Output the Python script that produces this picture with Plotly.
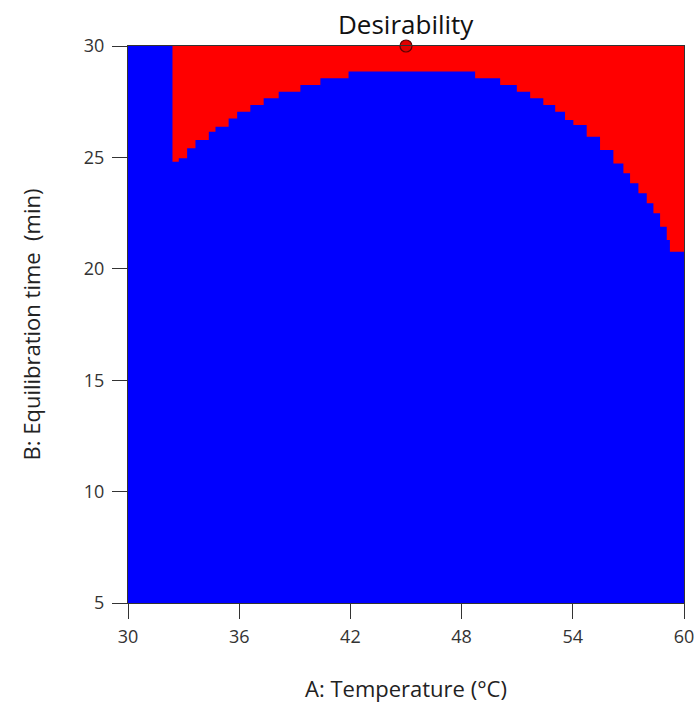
import plotly.graph_objects as go

# Boundary of the red (high desirability) region
boundary_temp = [32.4, 32.4, 32.74, 33.19, 33.64, 34.36, 34.72, 35.43, 35.89, 36.6, 37.32,
                 38.13, 39.3, 40.38, 41.9, 48.46, 48.73, 50.08, 50.98, 51.7, 52.41, 53.05,
                 53.58, 54.03, 54.75, 55.47, 56.19, 56.73, 57.09, 57.54, 57.99, 58.35,
                 58.71, 59.07, 59.24, 59.78, 60.0, 60.0]
boundary_time = [30.0, 24.8, 24.96, 25.41, 25.78, 26.15, 26.38, 26.75, 27.05, 27.35, 27.65,
                 27.95, 28.25, 28.55, 28.85, 28.85, 28.55, 28.25, 27.95, 27.65, 27.35, 27.05,
                 26.68, 26.45, 25.93, 25.33, 24.73, 24.29, 23.84, 23.39, 22.94, 22.49,
                 21.89, 21.29, 20.77, 20.77, 20.47, 30.0]

x_range = [30, 60]
y_range = [5, 30]
x_ticks = [30, 36, 42, 48, 54, 60]
y_ticks = [5, 10, 15, 20, 25, 30]

opt_temp = [45]
opt_time = [30]

font_family = "Open Sans, Noto Sans, sans-serif"
W, H = 696, 726
ML, MR, MT, MB = 128, 12, 46, 123

fig = go.Figure()

# blue region (whole design space)
fig.add_trace(go.Scatter(
    x=[x_range[0], x_range[1], x_range[1], x_range[0], x_range[0]],
    y=[y_range[0], y_range[0], y_range[1], y_range[1], y_range[0]],
    fill="toself", fillcolor="#0000FF", mode="lines", line=dict(width=0),
    hoverinfo="skip", showlegend=False))

# red region (stepped boundary like the gridded response surface)
fig.add_trace(go.Scatter(
    x=boundary_temp, y=boundary_time, fill="toself", fillcolor="#FF0000",
    mode="lines", line=dict(width=0, color="#FF0000", shape="hv"), hoverinfo="skip",
    showlegend=False))

# optimum point
fig.add_trace(go.Scatter(
    x=opt_temp, y=opt_time, mode="markers",
    marker=dict(size=12, color="#E00000", line=dict(color="#600000", width=1.2)),
    cliponaxis=False, showlegend=False, hoverinfo="skip"))

plot_h = H - MT - MB
plot_w = W - ML - MR

fig.update_layout(
    width=W, height=H,
    margin=dict(l=ML, r=MR, t=MT, b=MB),
    paper_bgcolor="white", plot_bgcolor="white",
    font=dict(family=font_family, color="#222222"),
    annotations=[
        dict(text="Desirability", xref="paper", yref="paper", x=0.5, y=1 + 22 / plot_h,
             xanchor="center", yanchor="middle", showarrow=False,
             font=dict(size=26, color="#111111")),
        dict(text="A: Temperature (°C)", xref="paper", yref="paper", x=0.5,
             y=-(688 - (H - MB)) / plot_h, xanchor="center", yanchor="middle",
             showarrow=False, font=dict(size=22, color="#222222")),
        dict(text="B: Equilibration time  (min)", xref="paper", yref="paper",
             x=-(ML - 30) / plot_w, y=0.5, xanchor="center", yanchor="middle",
             textangle=-90, showarrow=False, font=dict(size=22, color="#222222")),
    ],
    xaxis=dict(
        range=x_range, tickvals=x_ticks, ticks="outside", ticklen=15, tickwidth=1,
        tickcolor="#333333", showgrid=False, zeroline=False, automargin=False,
        showline=True, linecolor="#333333", linewidth=1, mirror=True,
        tickfont=dict(size=18, color="#333333", family=font_family), ticklabelstandoff=2,
    ),
    yaxis=dict(
        range=y_range, tickvals=y_ticks, ticks="outside", ticklen=15, tickwidth=1,
        tickcolor="#333333", showgrid=False, zeroline=False, automargin=False,
        showline=True, linecolor="#333333", linewidth=1, mirror=True,
        tickfont=dict(size=18, color="#333333", family=font_family), ticklabelstandoff=4,
    ),
)

fig.write_html("out.html", config={"displayModeBar": False},
               post_script="document.body.style.margin='0px';document.body.style.overflow='hidden';")
